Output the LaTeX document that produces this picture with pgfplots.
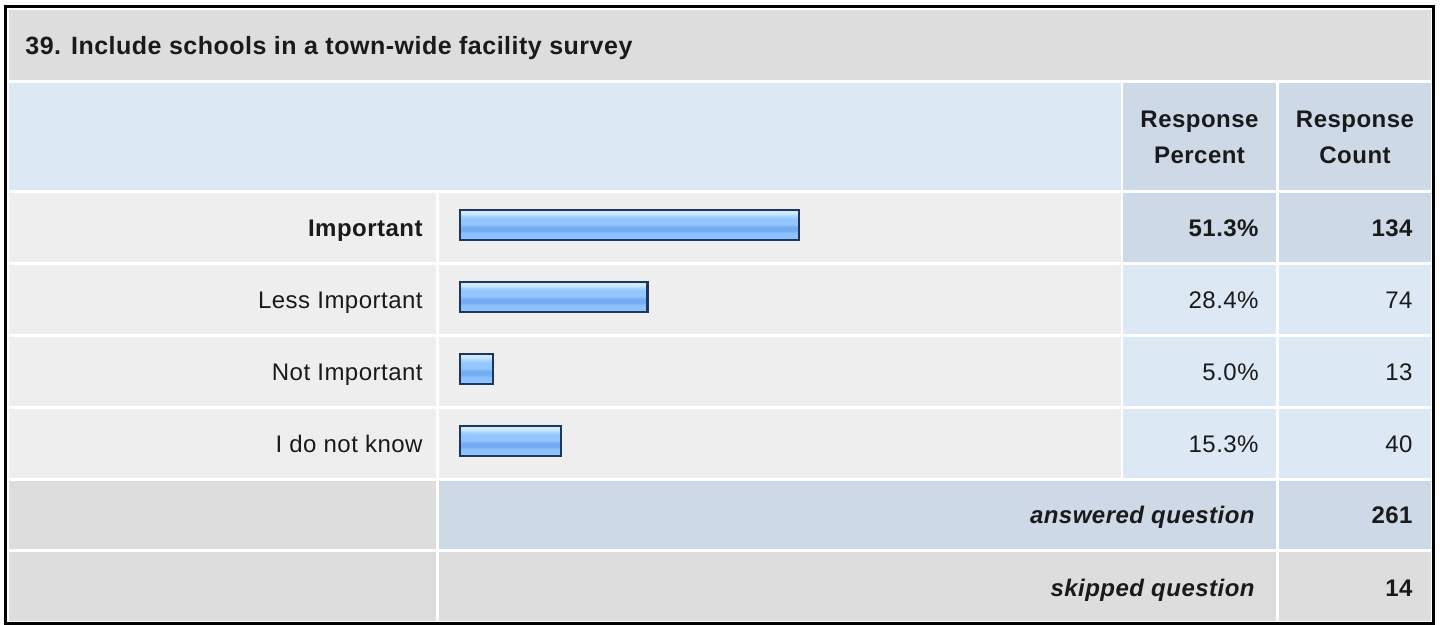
\documentclass[border=0pt]{standalone}
\usepackage{fontspec}
\setmainfont{Liberation Sans}[LetterSpace=2]
\usepackage{pgfplots}
\pgfplotsset{compat=1.18}
\definecolor{titlebg}{HTML}{DDDDDD}
\definecolor{headbg}{HTML}{DDE8F5}
\definecolor{rowbg}{HTML}{EEEEEE}
\definecolor{dkcell}{HTML}{CDD9E6}
\definecolor{ltcell}{HTML}{DDE8F5}
\definecolor{barline}{HTML}{1D3659}
\definecolor{txt}{HTML}{1A1A1A}
\definecolor{bA}{HTML}{D0E9FF}
\definecolor{bB}{HTML}{AAD4FF}
\definecolor{bC}{HTML}{94C7FF}
\definecolor{bD}{HTML}{76ADF2}
\definecolor{bE}{HTML}{8CC1FF}
\definecolor{bF}{HTML}{A2CEFF}
\pgfdeclareverticalshading{barshade}{100bp}{color(0bp)=(bF); color(25bp)=(bF); color(30bp)=(bE); color(37bp)=(bE); color(40bp)=(bD); color(47bp)=(bD); color(51bp)=(bC); color(61bp)=(bC); color(65bp)=(bB); color(70bp)=(bA); color(75bp)=(bA); color(100bp)=(bA)}
\newcommand{\cell}[5]{\fill[#1] (#2,{625-#3}) rectangle (#4,{625-#5});}
\begin{document}
\begin{tikzpicture}[x=0.5bp,y=0.5bp,font=\fontsize{12bp}{14bp}\selectfont]
\fill[white] (0,0) rectangle (1440,625);
\fill[black] (4,0) rectangle (1435,620);
\fill[white] (7,3) rectangle (1432,617);
% title
\cell{titlebg}{9}{10}{1431}{80}
% header
\cell{headbg}{9}{83}{1121}{190}
\cell{dkcell}{1123}{83}{1276}{190}
\cell{dkcell}{1279}{83}{1431}{190}
% body rows
\foreach \t/\b/\c in {193/262/dkcell,265/334/ltcell,337/406/ltcell,409/478/ltcell}{
  \cell{rowbg}{9}{\t}{436}{\b}
  \cell{rowbg}{439}{\t}{1121}{\b}
  \cell{\c}{1123}{\t}{1276}{\b}
  \cell{\c}{1279}{\t}{1431}{\b}
}
% answered
\cell{titlebg}{9}{481}{436}{549}
\cell{dkcell}{439}{481}{1276}{549}
\cell{dkcell}{1279}{481}{1431}{549}
% skipped
\cell{titlebg}{9}{552}{436}{621}
\cell{titlebg}{439}{552}{1276}{621}
\cell{titlebg}{1279}{552}{1431}{621}

% texts
\node[anchor=base west,inner sep=0pt,text=txt,font=\fontsize{12.5bp}{14bp}\selectfont\bfseries] at (25,{625-55}) {39. Include schools in a town-wide facility survey};
\node[anchor=base,inner sep=0pt,text=txt] at (1199.5,{625-128}) {\bfseries Response};
\node[anchor=base,inner sep=0pt,text=txt] at (1199.5,{625-164}) {\bfseries Percent};
\node[anchor=base,inner sep=0pt,text=txt] at (1355,{625-128}) {\bfseries Response};
\node[anchor=base,inner sep=0pt,text=txt] at (1355,{625-164}) {\bfseries Count};

\node[anchor=base east,inner sep=0pt,text=txt] at (423,{625-237}) {\bfseries Important};
\node[anchor=base east,inner sep=0pt,text=txt] at (1259,{625-237}) {\bfseries 51.3\%};
\node[anchor=base east,inner sep=0pt,text=txt] at (1413,{625-237}) {\bfseries 134};

\node[anchor=base east,inner sep=0pt,text=txt] at (423,{625-309}) {Less Important};
\node[anchor=base east,inner sep=0pt,text=txt] at (1259,{625-309}) {28.4\%};
\node[anchor=base east,inner sep=0pt,text=txt] at (1413,{625-309}) {74};

\node[anchor=base east,inner sep=0pt,text=txt] at (423,{625-381}) {Not Important};
\node[anchor=base east,inner sep=0pt,text=txt] at (1259,{625-381}) {5.0\%};
\node[anchor=base east,inner sep=0pt,text=txt] at (1413,{625-381}) {13};

\node[anchor=base east,inner sep=0pt,text=txt] at (423,{625-453}) {I do not know};
\node[anchor=base east,inner sep=0pt,text=txt] at (1259,{625-453}) {15.3\%};
\node[anchor=base east,inner sep=0pt,text=txt] at (1413,{625-453}) {40};

\node[anchor=base east,inner sep=0pt,text=txt] at (1255,{625-524}) {\bfseries\itshape answered question};
\node[anchor=base east,inner sep=0pt,text=txt] at (1413,{625-524}) {\bfseries 261};
\node[anchor=base east,inner sep=0pt,text=txt] at (1255,{625-597}) {\bfseries\itshape skipped question};
\node[anchor=base east,inner sep=0pt,text=txt] at (1413,{625-597}) {\bfseries 14};

\begin{axis}[at={(230bp,74bp)}, anchor=south west, scale only axis,
  width=330bp, height=144bp, xmin=0, xmax=100, ymin=-0.5, ymax=3.5,
  hide axis, xbar, bar width=15bp, bar shift=0pt, clip=false]
\addplot[draw=barline, line width=1.1bp, shade, shading=barshade] coordinates {(51.3,3)};
\addplot[draw=barline, line width=1.1bp, shade, shading=barshade] coordinates {(28.4,2)};
\addplot[draw=barline, line width=1.1bp, shade, shading=barshade] coordinates {(5.0,1)};
\addplot[draw=barline, line width=1.1bp, shade, shading=barshade] coordinates {(15.3,0)};
\end{axis}
\pgfresetboundingbox
\useasboundingbox (0,0) rectangle (1440,625);
\end{tikzpicture}
\end{document}
